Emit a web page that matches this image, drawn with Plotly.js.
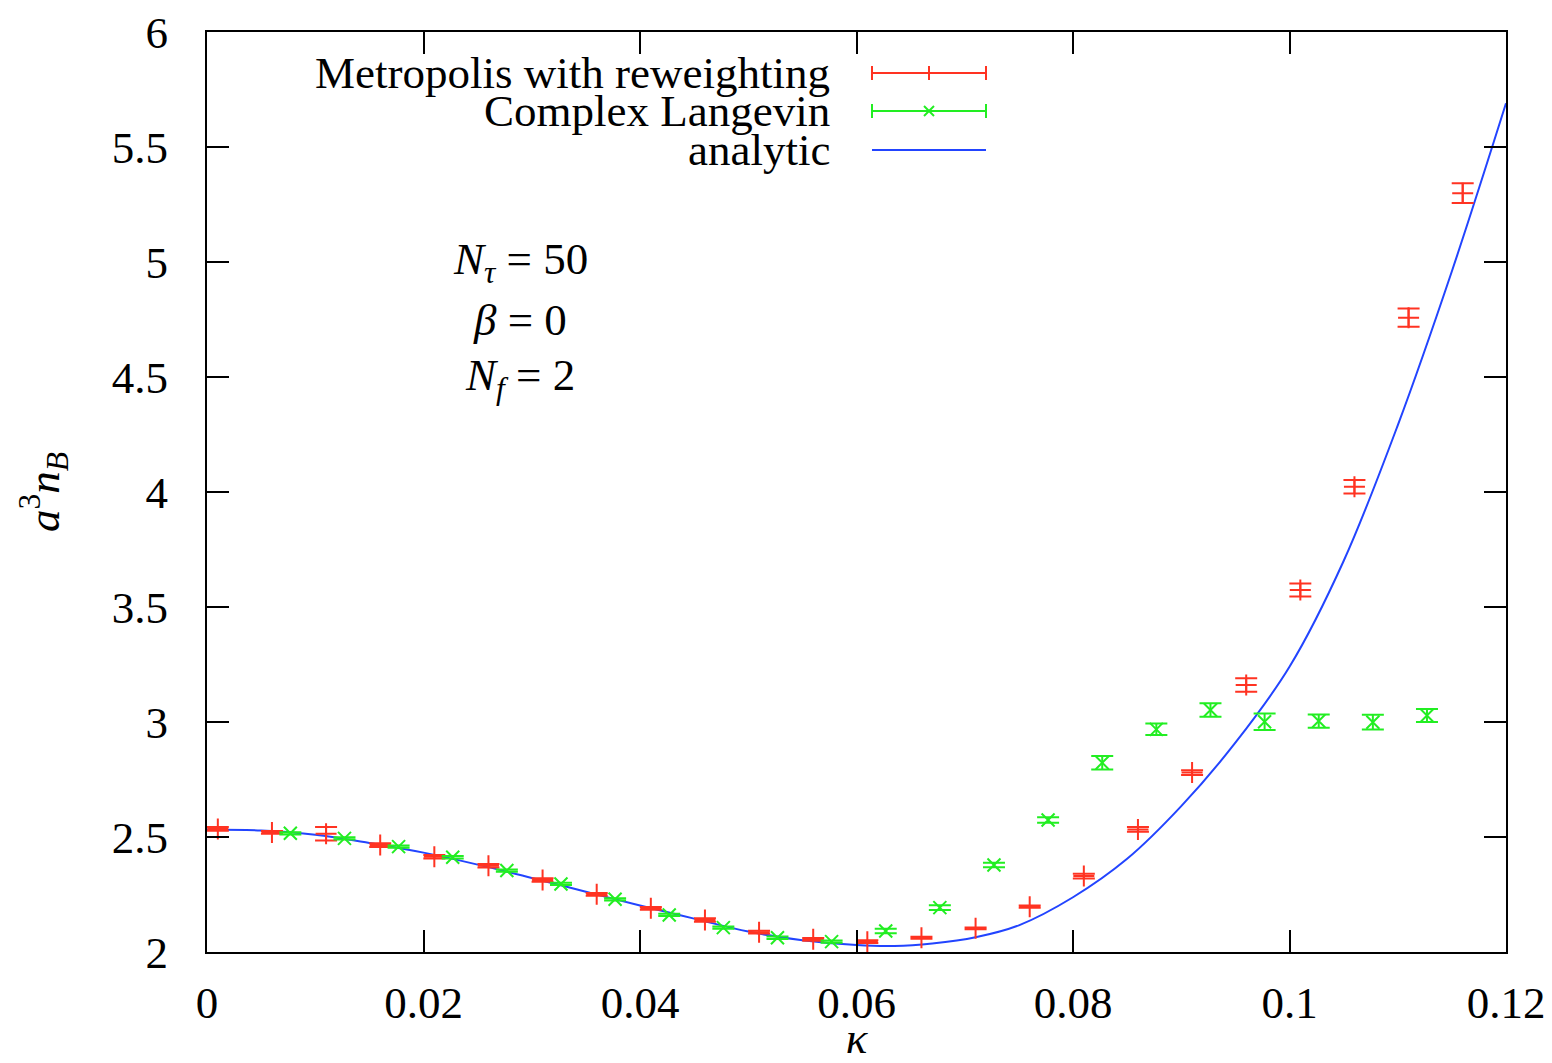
<!DOCTYPE html>
<html>
<head>
<meta charset="utf-8">
<script src="https://cdn.plot.ly/plotly-3.0.1.min.js"></script>
<style>html,body{margin:0;padding:0;background:#fff;}#plot{width:1552px;height:1063px;}</style>
</head>
<body>
<div id="plot"></div>
<script>
// Metropolis with reweighting
const kappaMetro = [0.001,0.006,0.011,0.016,0.021,0.026,0.031,0.036,0.041,0.046,0.051,0.056,0.061,0.066,0.071,0.076,0.081,0.086,0.091,0.096,0.101,0.106,0.111,0.116];
const nbMetro    = [2.535,2.520,2.514,2.465,2.414,2.375,2.313,2.251,2.190,2.139,2.086,2.055,2.045,2.062,2.103,2.197,2.330,2.533,2.780,3.161,3.574,4.023,4.758,5.299];
const errMetro   = [0.008,0.006,0.029,0.008,0.008,0.008,0.008,0.006,0.006,0.008,0.006,0.006,0.006,0.004,0.004,0.005,0.010,0.010,0.010,0.029,0.028,0.029,0.040,0.043];
// Complex Langevin
const kappaCL = [0.0077,0.0127,0.0177,0.0227,0.0277,0.0327,0.0377,0.0427,0.0477,0.0527,0.0577,0.0627,0.0677,0.0727,0.0777,0.0827,0.0877,0.0927,0.0977,0.1027,0.1077,0.1127];
const nbCL    = [2.516,2.494,2.458,2.412,2.354,2.296,2.229,2.161,2.106,2.062,2.045,2.091,2.193,2.378,2.574,2.823,2.968,3.052,3.001,3.004,2.999,3.028];
const errCL   = [0.005,0.005,0.005,0.005,0.005,0.005,0.005,0.005,0.005,0.005,0.005,0.010,0.010,0.010,0.012,0.029,0.025,0.029,0.036,0.029,0.032,0.028];
// analytic
const kappaAn = [0,0.005,0.010,0.015,0.020,0.025,0.030,0.035,0.040,0.045,0.050,0.055,0.060,0.0635,0.067,0.071,0.075,0.080,0.085,0.090,0.095,0.100,0.105,0.110,0.115,0.120];
const nbAn    = [2.533,2.528,2.510,2.474,2.432,2.380,2.322,2.262,2.202,2.145,2.089,2.051,2.030,2.026,2.037,2.064,2.116,2.238,2.405,2.634,2.910,3.240,3.700,4.290,4.960,5.690];

const xTicks = [0,0.02,0.04,0.06,0.08,0.1,0.12];
const xTickText = ['0','0.02','0.04','0.06','0.08','0.1','0.12'];
const yTicks = [2,2.5,3,3.5,4,4.5,5,5.5,6];
const yTickText = ['2','2.5','3','3.5','4','4.5','5','5.5','6'];
const legendNames = ['Metropolis with reweighting','Complex Langevin','analytic'];
const infoLines = ['<i>N</i><sub><i>τ</i></sub> = 50','<i>β</i> = 0','<i>N</i><sub><i>f</i></sub> = 2'];

const RED = '#ff3322', GREEN = '#22ee22', BLUE = '#2244ff';
const FONT = 'Liberation Serif, DejaVu Serif, serif';
const FS = 45;

const traces = [
  {x: kappaAn, y: nbAn, mode: 'lines', line: {color: BLUE, width: 2, shape: 'spline', smoothing: 1}, showlegend: false, hoverinfo: 'skip'},
  {x: kappaMetro, y: nbMetro, mode: 'markers', marker: {symbol: 'cross-thin', size: 15, line: {color: RED, width: 2}, color: RED},
   error_y: {type: 'data', array: errMetro, visible: true, color: RED, thickness: 2, width: 11}, showlegend: false},
  {x: kappaCL, y: nbCL, mode: 'markers', marker: {symbol: 'x-thin', size: 13, line: {color: GREEN, width: 2}, color: GREEN},
   error_y: {type: 'data', array: errCL, visible: true, color: GREEN, thickness: 2, width: 11}, showlegend: false}
];

// manual legend (text left of the sample, as in gnuplot)
const W = 1299, H = 920;
const px = p => p / W, py = p => p / H;
const rowsY = [1 - py(73 - 32), 1 - py(111 - 32), 1 - py(150 - 32)];
const textX = px(832 - 207);
const s0 = px(872 - 207), s1 = px(986 - 207), sc = px(929 - 207);
const colors = [RED, GREEN, BLUE];
const shapes = [];
const annotations = [];
legendNames.forEach((name, i) => {
  annotations.push({xref: 'paper', yref: 'paper', x: textX, y: rowsY[i], xanchor: 'right', yanchor: 'middle',
    text: name, showarrow: false, font: {family: FONT, size: FS, color: '#000'}});
  shapes.push({type: 'line', xref: 'paper', yref: 'paper', x0: s0, x1: s1, y0: rowsY[i], y1: rowsY[i], line: {color: colors[i], width: 2}});
  if (i < 2) {
    shapes.push({type: 'line', xref: 'paper', yref: 'paper', x0: s0, x1: s0, y0: rowsY[i] - py(7), y1: rowsY[i] + py(7), line: {color: colors[i], width: 2}});
    shapes.push({type: 'line', xref: 'paper', yref: 'paper', x0: s1, x1: s1, y0: rowsY[i] - py(7), y1: rowsY[i] + py(7), line: {color: colors[i], width: 2}});
  }
});
shapes.push({type: 'line', xref: 'paper', yref: 'paper', x0: sc, x1: sc, y0: rowsY[0] - py(7), y1: rowsY[0] + py(7), line: {color: RED, width: 2}});
shapes.push({type: 'line', xref: 'paper', yref: 'paper', x0: sc - px(5), x1: sc + px(5), y0: rowsY[1] - py(5), y1: rowsY[1] + py(5), line: {color: GREEN, width: 2}});
shapes.push({type: 'line', xref: 'paper', yref: 'paper', x0: sc - px(5), x1: sc + px(5), y0: rowsY[1] + py(5), y1: rowsY[1] - py(5), line: {color: GREEN, width: 2}});

const infoY = [1 - py(262 - 32), 1 - py(320 - 32), 1 - py(378 - 32)];
infoLines.forEach((t, i) => {
  annotations.push({xref: 'paper', yref: 'paper', x: px(520 - 207), y: infoY[i], xanchor: 'center', yanchor: 'middle',
    text: t, showarrow: false, font: {family: FONT, size: FS, color: '#000'}});
});

const layout = {
  width: 1552, height: 1063,
  margin: {l: 207, r: 46, t: 32, b: 111, pad: 0},
  paper_bgcolor: '#fff', plot_bgcolor: '#fff',
  font: {family: FONT, size: FS, color: '#000'},
  showlegend: false,
  xaxis: {range: [0, 0.12], tickvals: xTicks, ticktext: xTickText, ticks: 'inside', ticklen: 22, tickwidth: 2, tickcolor: '#000',
    showgrid: false, zeroline: false, showline: true, linecolor: '#000', linewidth: 2, mirror: 'ticks',
    ticklabelstandoff: 10, tickfont: {family: FONT, size: FS},
    title: {text: '<i>κ</i>', font: {family: FONT, size: FS}, standoff: 24}},
  yaxis: {range: [2, 6], tickvals: yTicks, ticktext: yTickText, ticks: 'inside', ticklen: 22, tickwidth: 2, tickcolor: '#000',
    showgrid: false, zeroline: false, showline: true, linecolor: '#000', linewidth: 2, mirror: 'ticks',
    ticklabelstandoff: 28, tickfont: {family: FONT, size: FS},
    title: {text: '<i>a</i><sup>3</sup><i>n</i><sub><i>B</i></sub>', font: {family: FONT, size: FS}, standoff: 38}},
  shapes: shapes,
  annotations: annotations
};

Plotly.newPlot('plot', traces, layout, {displayModeBar: false, staticPlot: true});
</script>
</body>
</html>
